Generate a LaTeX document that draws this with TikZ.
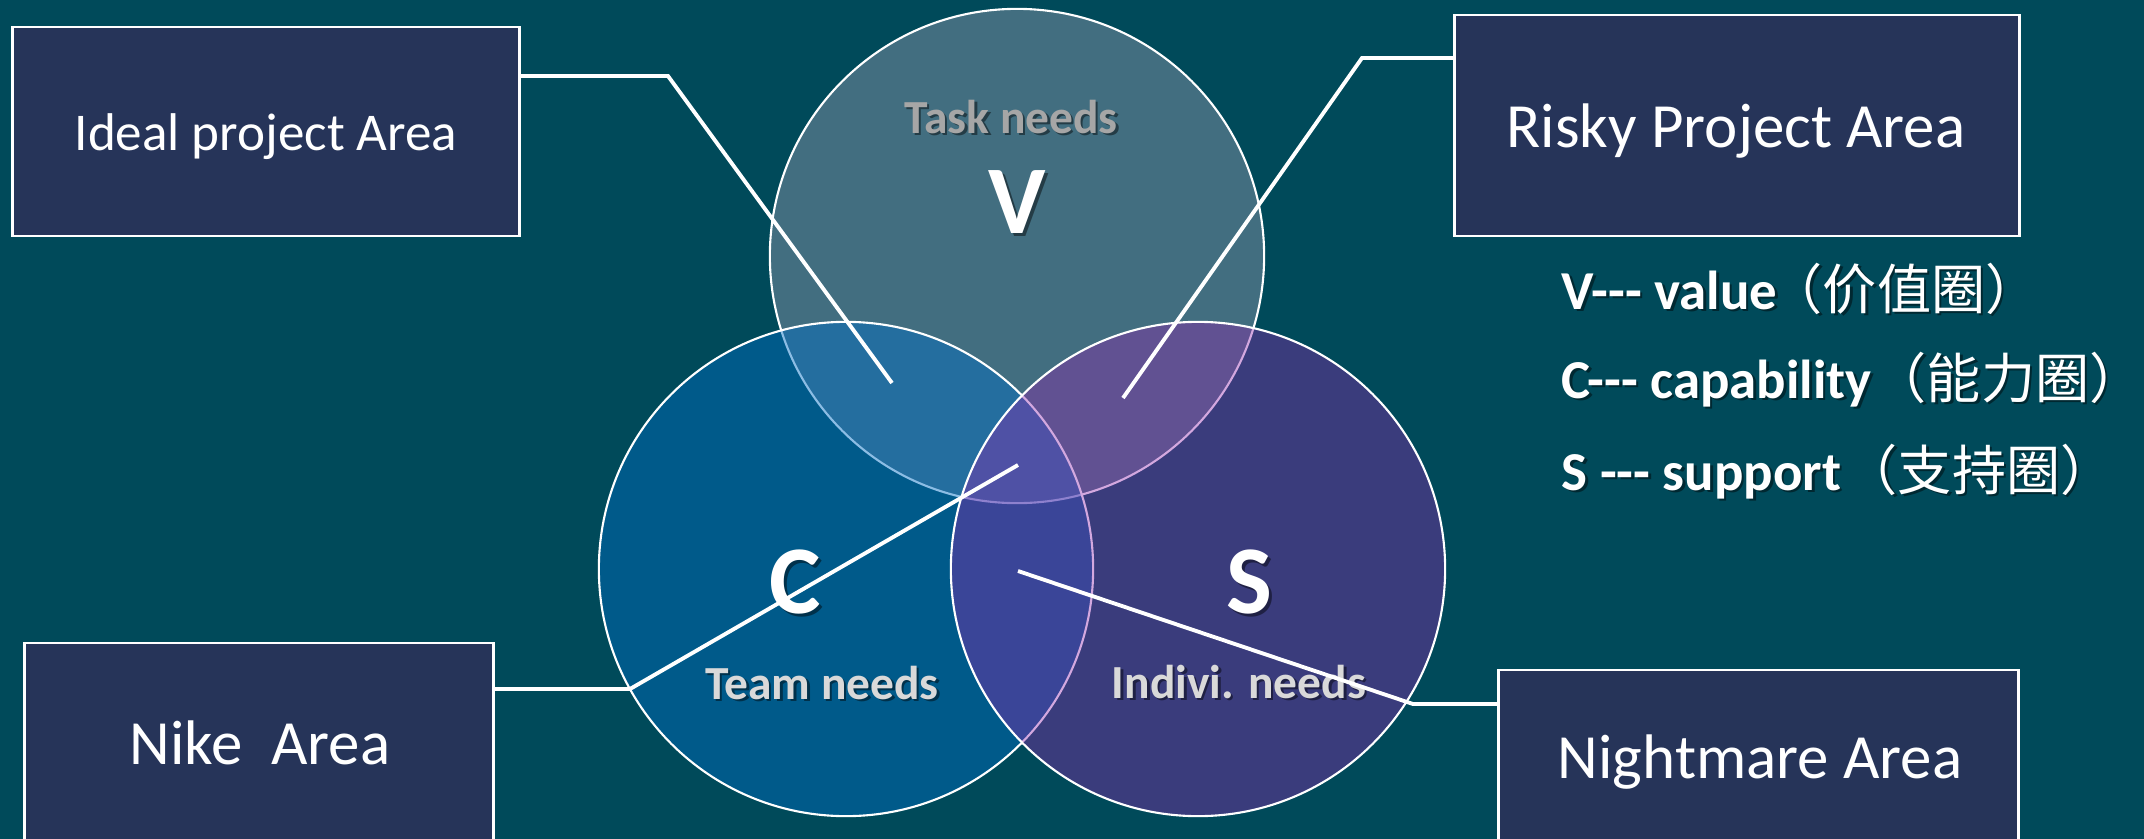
\documentclass[tikz,border=0pt]{standalone}
\usepackage{fontspec}
\setmainfont{Carlito}
\newfontfamily\cjkfont{Noto Sans CJK SC}
\definecolor{bgc}{RGB}{0,74,90}
\definecolor{boxc}{RGB}{38,52,89}
\definecolor{vc}{RGB}{66,110,128}
\definecolor{cc}{RGB}{0,110,197}
\definecolor{sc}{RGB}{145,39,175}
\definecolor{taskc}{RGB}{166,166,166}
\definecolor{needc}{RGB}{217,217,217}
\tikzset{
  box/.style={draw=white, line width=0.8pt, fill=boxc, inner sep=0pt},
  conn/.style={draw=white, line width=1.1pt, line join=miter},
  venn/.style={circle, draw=white, line width=0.6pt, minimum size=4.94cm, inner sep=0pt, outer sep=0pt},
  boxtext/.style={anchor=base, text=white, inner sep=0pt},
  lbl/.style={anchor=base, inner sep=0pt, font=\bfseries},
  shad/.style={text=black, opacity=0.45},
  legend/.style={anchor=base west, inner sep=0pt, text=white, font=\bfseries\fontsize{15.6}{19}\selectfont},
  cjklegend/.style={anchor=base west, inner sep=0pt, text=white, font=\cjkfont\fontsize{15.4}{19}\selectfont},
}
\begin{document}
\begin{tikzpicture}[x=0.01cm,y=-0.01cm]
\useasboundingbox (0,0) rectangle (2144,839);
\clip (0,0) rectangle (2144,839);
\fill[bgc] (0,0) rectangle (2144,839);

% Venn circles
\node[venn, fill=vc] (V) at (1017,256) {};
\node[venn, fill=cc, fill opacity=0.45] (C) at (846,569) {};
\node[venn, fill=sc, fill opacity=0.4] (S) at (1198,569) {};

% circle labels (with shadow)
\node[lbl, shad, font=\bfseries\fontsize{13.5}{16}\selectfont] (tasks) at (1013.5,135.5) {Task needs};
\node[lbl, text=taskc, font=\bfseries\fontsize{13.5}{16}\selectfont] (task) at (1011,133) {Task needs};
\node[lbl, shad, font=\bfseries\fontsize{27.6}{32}\selectfont] (vls) at (1020,236) {V};
\node[lbl, text=white, font=\bfseries\fontsize{27.6}{32}\selectfont] (vl) at (1017,233) {V};
\node[lbl, shad, font=\bfseries\fontsize{27.6}{32}\selectfont] (cls) at (798,616) {C};
\node[lbl, text=white, font=\bfseries\fontsize{27.6}{32}\selectfont] (cl) at (795,613) {C};
\node[lbl, shad, font=\bfseries\fontsize{27.6}{32}\selectfont] (sls) at (1252,616) {S};
\node[lbl, text=white, font=\bfseries\fontsize{27.6}{32}\selectfont] (sl) at (1249,613) {S};
\node[lbl, shad, font=\bfseries\fontsize{13.5}{16}\selectfont] (teams) at (824.5,701.5) {Team needs};
\node[lbl, text=needc, font=\bfseries\fontsize{13.5}{16}\selectfont] (team) at (822,699) {Team needs};
\node[lbl, shad, font=\bfseries\fontsize{13.5}{16}\selectfont] (indivs) at (1241.5,700.5) {Indivi. needs};
\node[lbl, text=needc, font=\bfseries\fontsize{13.5}{16}\selectfont] (indiv) at (1239,698) {Indivi. needs};

% boxes
\node[box, minimum width=5.06cm, minimum height=2.09cm] (ideal) at (266,131.5) {};
\node[box, minimum width=5.64cm, minimum height=2.21cm] (risky) at (1737,125.5) {};
\node[box, minimum width=4.68cm, minimum height=2.09cm] (nike) at (259,747.5) {};
\node[box, minimum width=5.19cm, minimum height=1.74cm] (night) at (1758.5,757) {};

\node[boxtext, font=\fontsize{15.1}{18}\selectfont] (idealt) at (266,150) {Ideal project Area};
\node[boxtext, font=\fontsize{17.9}{21}\selectfont] (riskyt) at (1736,147) {Risky Project Area};
\node[boxtext, font=\fontsize{17.9}{21}\selectfont] (niket) at (260,764) {Nike\ \ Area};
\node[boxtext, font=\fontsize{17.9}{21}\selectfont] (nightt) at (1760,778) {Nightmare Area};

% connectors
\coordinate (ib) at (668,76);
\coordinate (ie) at (892,383);
\coordinate (rb) at (1362,58);
\coordinate (re) at (1123,398);
\coordinate (nb) at (630,689);
\coordinate (ne) at (1018,465);
\coordinate (mb) at (1413,704);
\coordinate (me) at (1018,571);
\draw[conn] (ideal.east |- ib) -- (ib) -- (ie);
\draw[conn] (risky.west |- rb) -- (rb) -- (re);
\draw[conn] (nike.east |- nb) -- (nb) -- (ne);
\draw[conn] (night.west |- mb) -- (mb) -- (me);

% legend
\node[legend, shad] (l1s) at (1563.5,311.5) {V-{}-{}- value};
\node[legend] (l1) at (1561,309) {V-{}-{}- value};
\node[cjklegend, shad] (c1s) at (1770.5,311.5) {（价值圈）};
\node[cjklegend] (c1) at (1768,309) {（价值圈）};
\node[legend, shad] (l2s) at (1563.5,400.5) {C-{}-{}- capability};
\node[legend] (l2) at (1561,398) {C-{}-{}- capability};
\node[cjklegend, shad] (c2s) at (1874.5,400.5) {（能力圈）};
\node[cjklegend] (c2) at (1872,398) {（能力圈）};
\node[legend, shad] (l3s) at (1563.5,492.5) {S -{}-{}- support};
\node[legend] (l3) at (1561,490) {S -{}-{}- support};
\node[cjklegend, shad] (c3s) at (1845.5,492.5) {（支持圈）};
\node[cjklegend] (c3) at (1843,490) {（支持圈）};
\end{tikzpicture}
\end{document}
